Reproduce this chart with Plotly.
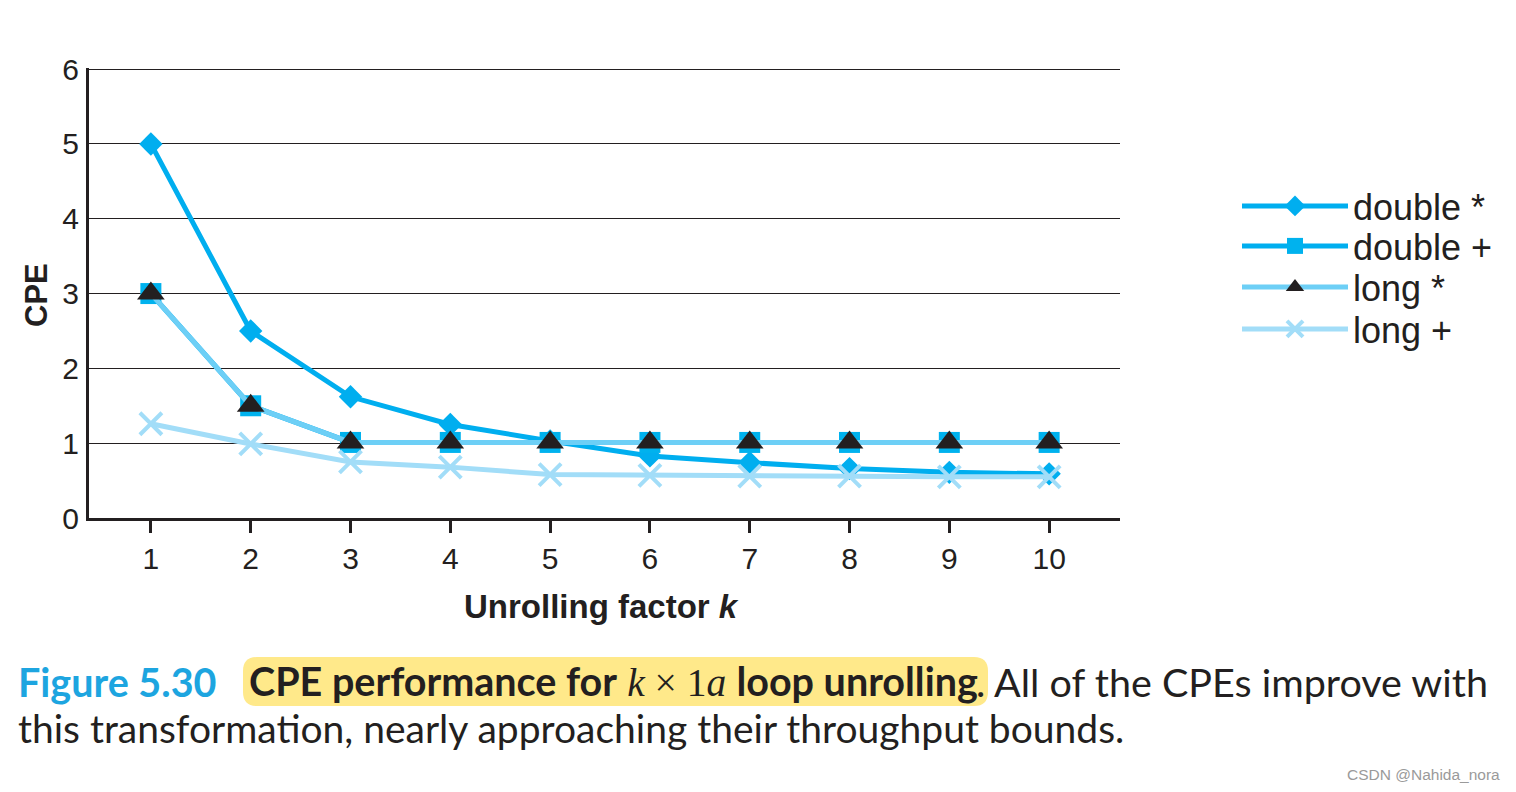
import plotly.graph_objects as go

# ---- data ----
k_values = [1, 2, 3, 4, 5, 6, 7, 8, 9, 10]
double_mul = [5.00, 2.50, 1.62, 1.25, 1.03, 0.83, 0.74, 0.66, 0.61, 0.59]
double_add = [3.00, 1.50, 1.01, 1.01, 1.01, 1.01, 1.01, 1.01, 1.01, 1.01]
long_mul = [3.00, 1.50, 1.01, 1.01, 1.01, 1.01, 1.01, 1.01, 1.01, 1.01]
long_add = [1.26, 0.99, 0.75, 0.68, 0.58, 0.57, 0.56, 0.56, 0.55, 0.55]
series_names = ["double *", "double +", "long *", "long +"]
y_ticks = [0, 1, 2, 3, 4, 5, 6]

INK = "#231F20"
OFF = 8  # browser body margin
W, H = 1516 - OFF, 792 - OFF
ML, MR, MT, MB = 89 - OFF, 396, 68 - OFF, 274
PW, PH = W - ML - MR, H - MT - MB


def px(xr):
    """reference-screen x pixel -> paper fraction"""
    return (xr - OFF - ML) / PW


def py(yr):
    """reference-screen y pixel -> paper fraction"""
    return (H - MB - (yr - OFF)) / PH


fig = go.Figure()
fig.add_trace(go.Scatter(
    x=k_values, y=double_mul, name=series_names[0], mode="lines+markers",
    line=dict(color="#00AEEF", width=5), legend="legend",
    marker=dict(symbol="diamond", size=18, color="#00AEEF")))
fig.add_trace(go.Scatter(
    x=k_values, y=double_add, name=series_names[1], mode="lines+markers",
    line=dict(color="#00AEEF", width=5), legend="legend2",
    marker=dict(symbol="square", size=21, color="#00B2EE")))
fig.add_trace(go.Scatter(
    x=k_values, y=long_mul, name=series_names[2], mode="lines+markers",
    line=dict(color="#6DCFF6", width=5), legend="legend3",
    marker=dict(symbol="triangle-up", size=24, color=INK)))
fig.add_trace(go.Scatter(
    x=k_values, y=long_add, name=series_names[3], mode="lines+markers",
    line=dict(color="#A2DDF8", width=5), legend="legend4",
    marker=dict(symbol="x-thin-open", size=22, color="#A2DDF8",
                line=dict(color="#A2DDF8", width=4))))


def leg(yc):
    return dict(x=px(1237), y=py(yc), xanchor="left", yanchor="middle",
                font=dict(size=36, color=INK), itemwidth=106,
                bgcolor="rgba(0,0,0,0)")


fig.update_layout(
    width=W, height=H,
    margin=dict(l=ML, r=MR, t=MT, b=MB, autoexpand=False),
    paper_bgcolor="white", plot_bgcolor="white",
    font=dict(family="Liberation Sans, Arial", color=INK),
    showlegend=True,
    legend=leg(206), legend2=leg(246), legend3=leg(287), legend4=leg(329),
    xaxis=dict(range=[0.38, 10.71], tickvals=k_values, ticks="outside",
               ticklen=12, tickwidth=3, tickcolor=INK, showgrid=False,
               showline=True, linewidth=3, linecolor=INK, zeroline=False,
               tickfont=dict(size=30, color=INK)),
    yaxis=dict(range=[0, 6.015], tickvals=y_ticks, ticks="", showgrid=True,
               gridcolor=INK, gridwidth=1.3, showline=True, linewidth=3,
               linecolor=INK, zeroline=False, ticklabelstandoff=1,
               tickfont=dict(size=30, color=INK)),
)

# axis titles
fig.add_annotation(text="<b>CPE</b>", xref="paper", yref="paper",
                   x=px(36), y=py(295), xanchor="center", yanchor="middle",
                   textangle=-90, showarrow=False,
                   font=dict(size=31, color=INK))
fig.add_annotation(text="<b>Unrolling factor <i>k</i></b>", xref="paper", yref="paper",
                   x=px(601), y=py(606), xanchor="center", yanchor="middle",
                   showarrow=False, font=dict(size=33, color=INK))

# caption highlight (rounded band)
hx0, hx1, hy0, hy1 = px(243), px(988), py(706), py(657)
rx, ry = 14 / PW, 14 / PH
hl_path = (f"M {hx0 + rx},{hy1} L {hx1 - rx},{hy1} Q {hx1},{hy1} {hx1},{hy1 - ry} "
           f"L {hx1},{hy0 + ry} Q {hx1},{hy0} {hx1 - rx},{hy0} "
           f"L {hx0 + rx},{hy0} Q {hx0},{hy0} {hx0},{hy0 + ry} "
           f"L {hx0},{hy1 - ry} Q {hx0},{hy1} {hx0 + rx},{hy1} Z")
fig.add_shape(type="path", xref="paper", yref="paper", path=hl_path,
              fillcolor="#FFE98A", line=dict(width=0), layer="below")

# caption
CAP = "Lato, Noto Sans, sans-serif"
CS = 39.5
fig.add_annotation(text="<b>Figure 5.30</b>", xref="paper", yref="paper",
                   x=px(16), y=py(681), xanchor="left", yanchor="middle",
                   showarrow=False, font=dict(size=CS, color="#1DA5E0", family=CAP))
fig.add_annotation(
    text=("<b>CPE performance for</b> <span style='font-family:Liberation Serif'>"
          "<i>k</i> × 1<i>a</i></span> <b>loop unrolling</b>"),
    xref="paper", yref="paper", x=px(247), y=py(681), xanchor="left", yanchor="middle",
    showarrow=False, font=dict(size=CS, color=INK, family=CAP))
fig.add_annotation(
    text=". All of the CPEs improve with",
    xref="paper", yref="paper", x=px(1490), y=py(681), xanchor="right", yanchor="middle",
    showarrow=False, font=dict(size=CS, color=INK, family=CAP))
fig.add_annotation(
    text="this transformation, nearly approaching their throughput bounds.",
    xref="paper", yref="paper", x=px(16), y=py(728), xanchor="left", yanchor="middle",
    showarrow=False, font=dict(size=39, color=INK, family=CAP))
fig.add_annotation(text="CSDN @Nahida_nora", xref="paper", yref="paper",
                   x=px(1502), y=py(774), xanchor="right", yanchor="middle",
                   showarrow=False, font=dict(size=15.5, color="#9A9A9A", family="Liberation Sans"))

fig.write_html("out.html")
